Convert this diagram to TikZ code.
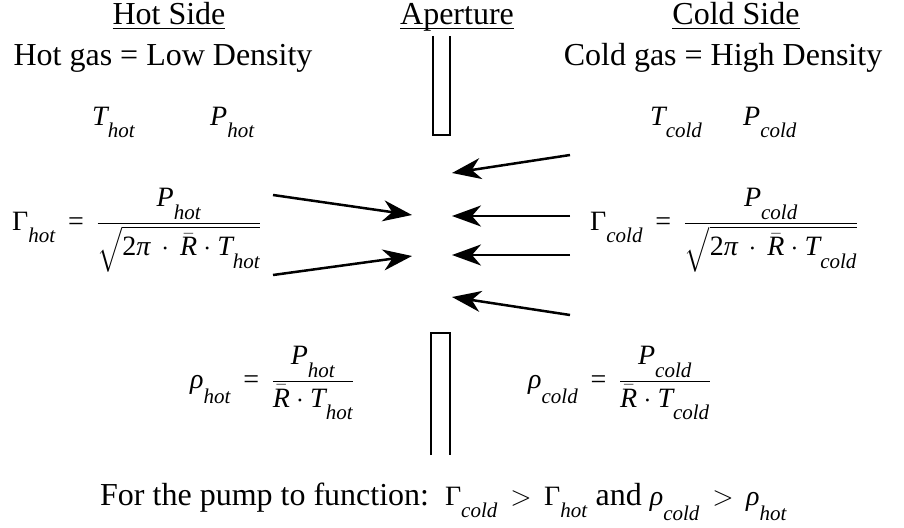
\documentclass[tikz,border=0pt]{standalone}
\usepackage{fix-cm}
\usepackage{amsmath}
\usepackage{fontspec}
\setmainfont{Liberation Serif}
\usetikzlibrary{arrows.meta}
\DeclareMathSizes{28}{28}{21}{15}
\newcommand{\vb}[1]{\text{\itshape #1}}
\newcommand{\sbs}[1]{_{\text{\itshape\raisebox{-.4em}{#1}}}}
\newcommand{\eqs}{\mathrel{\,\text{=}\,}}
\newcommand{\dt}{\mathbin{\,\cdot\,}}
\newcommand{\ul}[1]{\underline{\smash[b]{#1}}}
\newcommand{\eqfont}{\fontsize{28}{33}\selectfont}
\newcommand{\txtfont}{\fontsize{32}{38}\selectfont}
\begin{document}
\begin{tikzpicture}[x=1pt, y=-1pt,
	txt/.style={inner sep=0pt, font=\txtfont},
	eq/.style={inner sep=0pt, anchor=base west, font=\eqfont},
	wall/.style={line width=2pt},
	flow/.style={line width=2.5pt, -{Stealth[length=29pt,width=21pt,inset=9pt]}}]
	\useasboundingbox (0,0) rectangle (904,527);
	
	\node[txt, anchor=base] (hot) at (169,25) {\ul{Hot Side}};
	\node[txt, anchor=base] (aperture) at (457,25) {\ul{Aperture}};
	\node[txt, anchor=base] (cold) at (736,25) {\ul{Cold Side}};
	\node[txt, anchor=base] (hotgas) at (163,65) {Hot gas = Low Density};
	\node[txt, anchor=base] (coldgas) at (723,65) {Cold gas = High Density};
	
	\node[eq] (Thot) at (92,125) {$\vb{T}\sbs{hot}$};
	\node[eq] (Phot) at (210,125) {$\vb{P}\sbs{hot}$};
	\node[eq] (Tcold) at (650,125) {$\vb{T}\sbs{cold}$};
	\node[eq] (Pcold) at (743,125) {$\vb{P}\sbs{cold}$};
	
	\node[eq] (Ghot) at (12,230) {$\text{Γ}\sbs{hot} \eqs \dfrac{\vb{P}\sbs{hot}}{\sqrt{\text{2}\vb{π}\dt\bar{\vb{R}}\cdot\vb{T}\sbs{hot}}}$};
	\node[eq] (Gcold) at (590,230) {$\text{Γ}\sbs{cold} \eqs \dfrac{\vb{P}\sbs{cold}}{\sqrt{\text{2}\vb{π}\dt\bar{\vb{R}}\cdot\vb{T}\sbs{cold}}}$};
	\node[eq] (rhohot) at (190,388) {$\vb{ρ}\sbs{hot} \eqs \dfrac{\vb{P}\sbs{hot}}{\bar{\vb{R}}\cdot\vb{T}\sbs{hot}}$};
	\node[eq] (rhocold) at (528,388) {$\vb{ρ}\sbs{cold} \eqs \dfrac{\vb{P}\sbs{cold}}{\bar{\vb{R}}\cdot\vb{T}\sbs{cold}}$};
	
	\node[txt, anchor=base west] (pump) at (100,505) {For the pump to function:\enspace
		{\eqfont$\text{Γ}\sbs{cold} \,\mathrel{>}\, \text{Γ}\sbs{hot}$}
		and {\eqfont$\vb{ρ}\sbs{cold} \,\mathrel{>}\, \vb{ρ}\sbs{hot}$}};
	
	\draw[wall] (433,36) -- (433,135) -- (450,135) -- (450,36);
	\draw[wall] (431,455) -- (431,333) -- (450,333) -- (450,455);
	
	\coordinate (h1s) at (273,195);
	\coordinate (h1e) at (412,215);
	\coordinate (h2s) at (273,275);
	\coordinate (h2e) at (412,256);
	\coordinate (c1s) at (570,155);
	\coordinate (c1e) at (452,173);
	\coordinate (c2s) at (570,216);
	\coordinate (c2e) at (452,216);
	\coordinate (c3s) at (570,255);
	\coordinate (c3e) at (452,255);
	\coordinate (c4s) at (570,315);
	\coordinate (c4e) at (452,297);
	
	\draw[flow] (h1s) -- (h1e);
	\draw[flow] (h2s) -- (h2e);
	\draw[flow] (c1s) -- (c1e);
	\draw[flow] (c2s) -- (c2e);
	\draw[flow] (c3s) -- (c3e);
	\draw[flow] (c4s) -- (c4e);
	
\end{tikzpicture}
\end{document}
